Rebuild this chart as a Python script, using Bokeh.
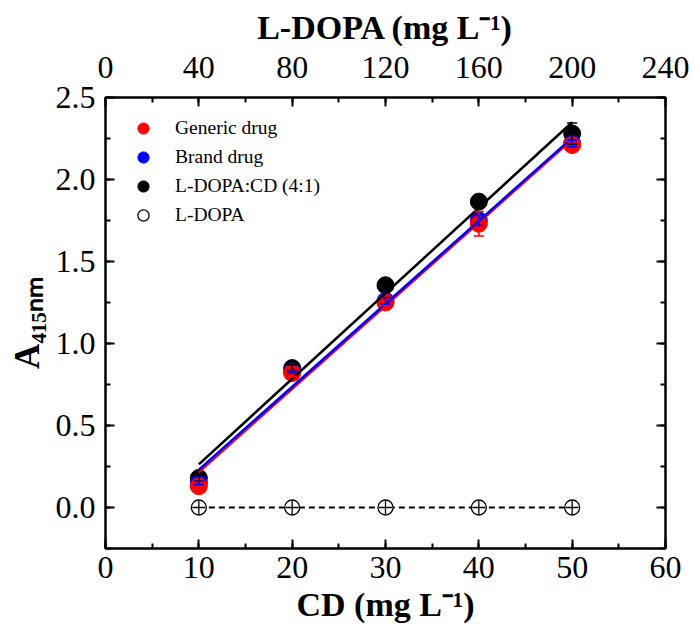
import numpy as np
from bokeh.plotting import figure
from bokeh.models import (Range1d, LinearAxis, SingleIntervalTicker, Whisker,
                          ColumnDataSource, Legend, LegendItem, TeeHead,
                          NumeralTickFormatter)
from bokeh.embed import file_html
from bokeh.resources import INLINE

# ---- data ----
cd = [10, 20, 30, 40, 50]
generic = [0.13, 0.82, 1.25, 1.73, 2.21]
generic_err = [0.02, 0.02, 0.02, 0.075, 0.02]
brand = [0.15, 0.83, 1.26, 1.75, 2.22]
brand_err = [0.01, 0.01, 0.02, 0.03, 0.02]
ldopa_cd = [0.18, 0.85, 1.355, 1.865, 2.28]
ldopa_cd_err = [0.02, 0.02, 0.02, 0.03, 0.065]
ldopa = [0.0, 0.0, 0.0, 0.0, 0.0]

labels = ["Generic drug", "Brand drug", "L-DOPA:CD (4:1)", "L-DOPA"]
x_title = "CD (mg L\u207b\u00b9)"
top_title = "L-DOPA (mg L\u207b\u00b9)"
y_title = "A\u2084\u2081\u2085\u2099\u2098"

FONT = "Liberation Serif"

p = figure(width=692, height=625, x_range=Range1d(0, 60), y_range=Range1d(-0.25, 2.5),
           output_backend="svg", toolbar_location=None,
           min_border_left=105, min_border_right=27, min_border_top=97, min_border_bottom=75)
p.extra_x_ranges = {"top": Range1d(0, 240)}
p.grid.visible = False
p.outline_line_color = "black"
p.outline_line_width = 2
p.background_fill_color = "white"
p.border_fill_color = "white"

bottom_axis = p.below[0]
left_axis = p.left[0]
top_axis = LinearAxis(x_range_name="top")
right_axis = LinearAxis()
p.add_layout(top_axis, "above")
p.add_layout(right_axis, "right")

def style(ax):
    ax.axis_line_width = 2
    ax.axis_line_color = "black"
    ax.major_tick_line_width = 2
    ax.minor_tick_line_width = 2
    ax.major_tick_in = 9
    ax.major_tick_out = 0
    ax.minor_tick_in = 5
    ax.minor_tick_out = 0
    ax.major_label_text_font = FONT
    ax.major_label_text_font_size = "32px"
    ax.major_label_text_color = "black"
    ax.axis_label_text_font = FONT
    ax.axis_label_text_color = "black"

for ax in [bottom_axis, left_axis, top_axis, right_axis]:
    style(ax)

bottom_axis.ticker = SingleIntervalTicker(interval=10, num_minor_ticks=2)
bottom_axis.axis_label = x_title
bottom_axis.axis_label_text_font_style = "bold"
bottom_axis.axis_label_text_font_size = "34px"
bottom_axis.major_label_standoff = 8
bottom_axis.axis_label_standoff = 5

top_axis.ticker = SingleIntervalTicker(interval=40, num_minor_ticks=2)
top_axis.axis_label = top_title
top_axis.axis_label_text_font_style = "bold"
top_axis.axis_label_text_font_size = "34px"
top_axis.major_label_standoff = 20
top_axis.axis_label_standoff = 8

for ax in [left_axis, right_axis]:
    ax.ticker = SingleIntervalTicker(interval=0.5, num_minor_ticks=2)
    ax.formatter = NumeralTickFormatter(format="0.0")
left_axis.axis_label = y_title
left_axis.axis_label_text_font_style = "bold"
left_axis.axis_label_text_font_size = "35px"
left_axis.major_label_standoff = 10
left_axis.axis_label_standoff = 6
right_axis.major_label_text_color = None

# error bars
def whisk(vals, errs, color):
    src = ColumnDataSource(dict(x=cd, upper=[v + e for v, e in zip(vals, errs)],
                                lower=[v - e for v, e in zip(vals, errs)]))
    w = Whisker(source=src, base="x", upper="upper", lower="lower",
                line_color=color, line_width=1.5,
                upper_head=TeeHead(size=10, line_color=color, line_width=1.5),
                lower_head=TeeHead(size=10, line_color=color, line_width=1.5))
    w.level = "glyph"
    p.add_layout(w)

r_black = p.scatter(cd, ldopa_cd, size=17, color="black", marker="circle")
r_blue = p.scatter(cd, brand, size=17, color="#0000FF", marker="circle")
r_red = p.scatter(cd, generic, size=17, color="#FF0000", marker="circle")
whisk(ldopa_cd, ldopa_cd_err, "black")
whisk(generic, generic_err, "#FF0000")
whisk(brand, brand_err, "#0000FF")

# L-DOPA alone
p.line(cd, ldopa, line_color="black", line_width=2, line_dash="6 4")
r_open = p.scatter(cd, ldopa, size=15, marker="circle", fill_color="white",
                   line_color="black", line_width=1.3)
p.scatter(cd, ldopa, size=13, marker="cross", line_color="black", line_width=1.3)

# linear fits
xf = np.array([cd[0], cd[-1]], dtype=float)
for ys, color, lw in [(generic, "#FF0000", 2), (brand, "#0000FF", 2.5), (ldopa_cd, "black", 2.5)]:
    m, b = np.polyfit(cd, ys, 1)
    p.line(xf, m * xf + b, line_color=color, line_width=lw)

legend = Legend(items=[LegendItem(label=labels[0], renderers=[r_red]),
                       LegendItem(label=labels[1], renderers=[r_blue]),
                       LegendItem(label=labels[2], renderers=[r_black]),
                       LegendItem(label=labels[3], renderers=[r_open])],
                location=(24, 319), padding=0, margin=0, spacing=1,
                glyph_width=28, glyph_height=28, label_height=28,
                label_standoff=18, border_line_color=None,
                background_fill_alpha=0,
                label_text_font=FONT, label_text_font_size="19.5px",
                label_text_color="black")
p.add_layout(legend)

open("out.html", "w").write(file_html(p, INLINE))
